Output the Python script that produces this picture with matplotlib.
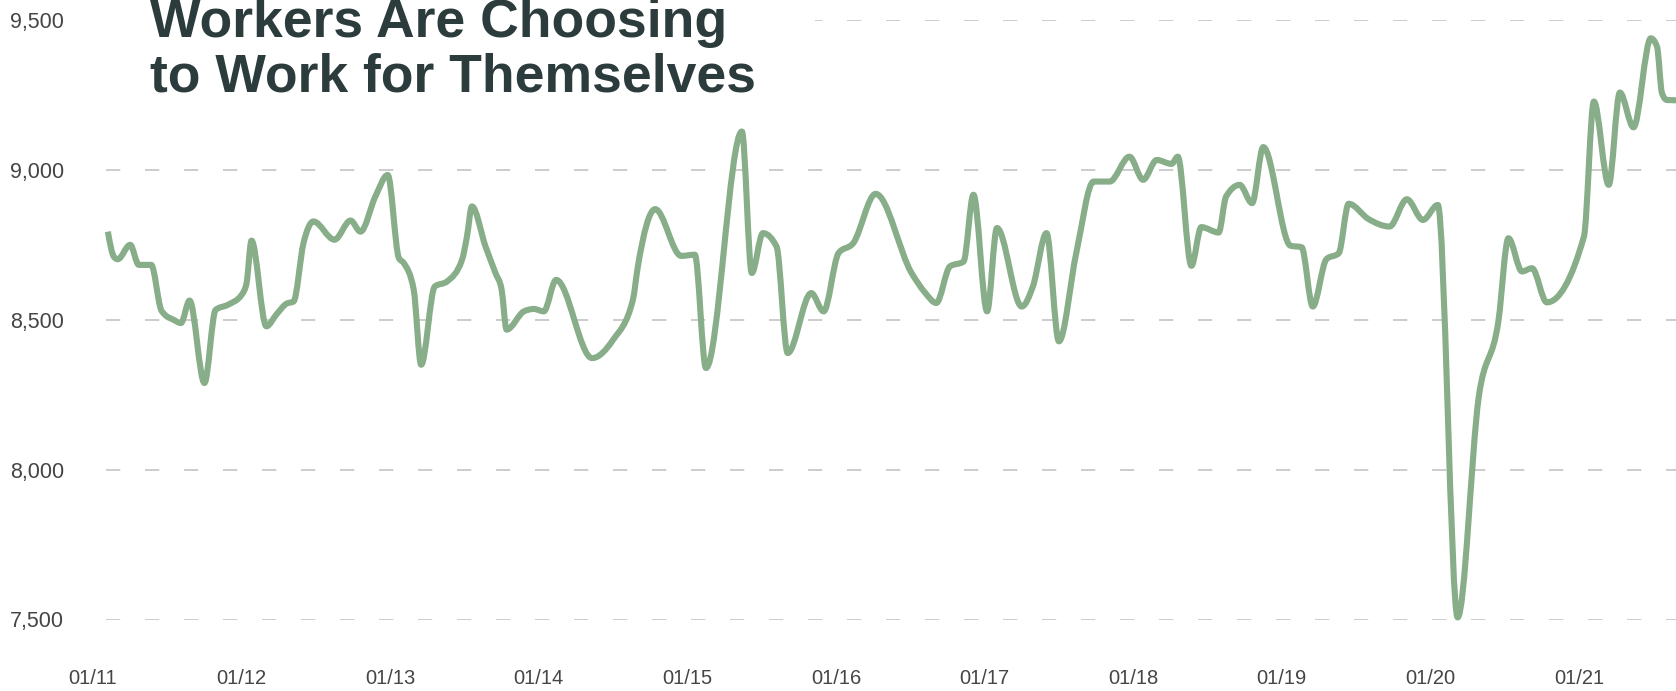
import numpy as np
import matplotlib
matplotlib.use("Agg")
import matplotlib.pyplot as plt
from matplotlib.patches import Rectangle, PathPatch
from matplotlib.path import Path

# self-employed workers (thousands), positions in months since Jan 2011
month_idx = [1.2, 1.7, 2.0, 3.0, 3.7, 4.7, 5.5, 5.8, 6.5, 7.1,
             7.8, 9.0, 9.9, 10.9, 12.0, 12.4, 12.8, 14.0, 14.8, 15.6,
             16.2, 17.0, 17.8, 19.5, 20.8, 21.6, 22.8, 23.8, 24.7, 25.1,
             25.9, 26.5, 27.6, 28.6, 29.8, 30.2, 30.6, 31.7, 32.5, 33.0,
             33.4, 34.8, 35.6, 36.4, 37.4, 40.3, 42.0, 43.6, 44.0, 45.4,
             47.5, 48.6, 49.5, 52.4, 53.2, 54.1, 55.2, 56.1, 58.0, 59.0,
             60.2, 61.4, 63.2, 66.1, 67.2, 68.1, 69.2, 70.3, 71.1, 72.2,
             73.0, 75.0, 75.9, 77.0, 78.0, 79.4, 80.8, 82.1, 83.7, 84.8,
             85.9, 87.1, 87.6, 88.7, 89.5, 90.9, 91.5, 92.6, 93.6, 94.5,
             96.7, 97.6, 98.5, 99.6, 100.6, 101.4, 103.0, 104.7, 106.1, 107.4,
             108.6, 110.2, 111.9, 113.5, 114.3, 115.4, 116.2, 117.4, 120.4, 121.2,
             122.4, 123.3, 124.4, 125.8, 126.3, 126.7, 127.1, 128.5]
workers = [8794, 8709, 8702, 8750, 8683, 8683, 8533, 8517, 8500, 8489,
           8564, 8289, 8533, 8550, 8583, 8622, 8764, 8478, 8517, 8553,
           8561, 8756, 8828, 8767, 8831, 8794, 8911, 8983, 8706, 8689,
           8600, 8350, 8611, 8628, 8700, 8778, 8878, 8744, 8656, 8600,
           8467, 8528, 8536, 8528, 8633, 8372, 8433, 8567, 8678, 8869,
           8713, 8717, 8339, 9128, 8656, 8789, 8744, 8389, 8589, 8528,
           8722, 8756, 8920, 8656, 8590, 8556, 8678, 8694, 8917, 8528,
           8806, 8544, 8611, 8789, 8428, 8722, 8961, 8961, 9044, 8967,
           9033, 9020, 9044, 8680, 8809, 8791, 8911, 8950, 8889, 9076,
           8747, 8742, 8544, 8702, 8722, 8887, 8836, 8811, 8902, 8833,
           8883, 7507, 8241, 8498, 8772, 8661, 8672, 8558, 8778, 9228,
           8950, 9258, 9142, 9439, 9411, 9256, 9233, 9232]

year_ticks = list(range(2011, 2022))
year_labels = [f"01/{y % 100:02d}" for y in year_ticks]
y_ticks = [7500, 8000, 8500, 9000, 9500]
y_labels = [f"{v:,}" for v in y_ticks]
title_lines = ["Workers Are Choosing", "to Work for Themselves"]


def monotone_path(x, y):
    """Monotone cubic (Fritsch-Carlson style) curve through the points as a Bezier path."""
    x = np.asarray(x, float)
    y = np.asarray(y, float)
    h = np.diff(x)
    s = np.diff(y) / h
    m = np.zeros_like(y)
    for i in range(1, len(y) - 1):
        s0, s1 = s[i - 1], s[i]
        p = (s0 * h[i] + s1 * h[i - 1]) / (h[i - 1] + h[i])
        m[i] = (np.sign(s0) + np.sign(s1)) * min(abs(s0), abs(s1), 0.5 * abs(p))
    m[0] = (3 * s[0] - m[1]) / 2
    m[-1] = (3 * s[-1] - m[-2]) / 2
    verts = [(x[0], y[0])]
    codes = [Path.MOVETO]
    for i in range(len(h)):
        d = h[i] / 3
        verts += [(x[i] + d, y[i] + d * m[i]),
                  (x[i + 1] - d, y[i + 1] - d * m[i + 1]),
                  (x[i + 1], y[i + 1])]
        codes += [Path.CURVE4] * 3
    return Path(verts, codes)


plt.rcParams['font.family'] = ['Liberation Sans', 'DejaVu Sans']

W, H = 1676, 691
fig = plt.figure(figsize=(W / 100, H / 100), dpi=100)
ax = fig.add_axes([84 / W, 1 - 619.5 / H, 1 - 84 / W, 599.5 / H])

px_per_year = 148.6
x_left = 2011 + (84 - 93) / px_per_year
x_right = 2011 + (W - 93) / px_per_year
grid_start = 2011.09

t = 2011 + np.array(month_idx) / 12

ax.hlines(y_ticks, grid_start, x_right, colors='#c8c8c8', lw=1.3,
          linestyles=(0, (7.9, 13.7)), zorder=1)
curve = PathPatch(monotone_path(t, workers), facecolor='none', edgecolor='#87ad89',
                  lw=4.4, joinstyle='round', capstyle='butt', clip_on=False, zorder=3)
ax.add_patch(curve)

ax.set_xlim(x_left, x_right)
ax.set_ylim(7500, 9500)
ax.set_xticks(year_ticks)
ax.set_xticklabels(year_labels)
ax.set_yticks(y_ticks)
ax.set_yticklabels(y_labels)
ax.tick_params(axis='both', length=0, labelcolor='#454545')
ax.tick_params(axis='y', pad=14.4, labelsize=15.5)
ax.tick_params(axis='x', pad=36, labelsize=14.5)
for s in ax.spines.values():
    s.set_visible(False)

# white panel behind the headline
fig.add_artist(Rectangle((100 / W, 1 - 112 / H), 715 / W, 112 / H,
                         transform=fig.transFigure, facecolor='white',
                         edgecolor='none', zorder=2))
fig.text(150 / W, 1 - 37 / H, title_lines[0], fontsize=38.5, fontweight='bold',
         color='#2c3b3b', va='baseline', ha='left', zorder=3)
fig.text(150 / W, 1 - 92 / H, title_lines[1], fontsize=38.5, fontweight='bold',
         color='#2c3b3b', va='baseline', ha='left', zorder=3)

fig.savefig('out.png', dpi=100, facecolor='white')
